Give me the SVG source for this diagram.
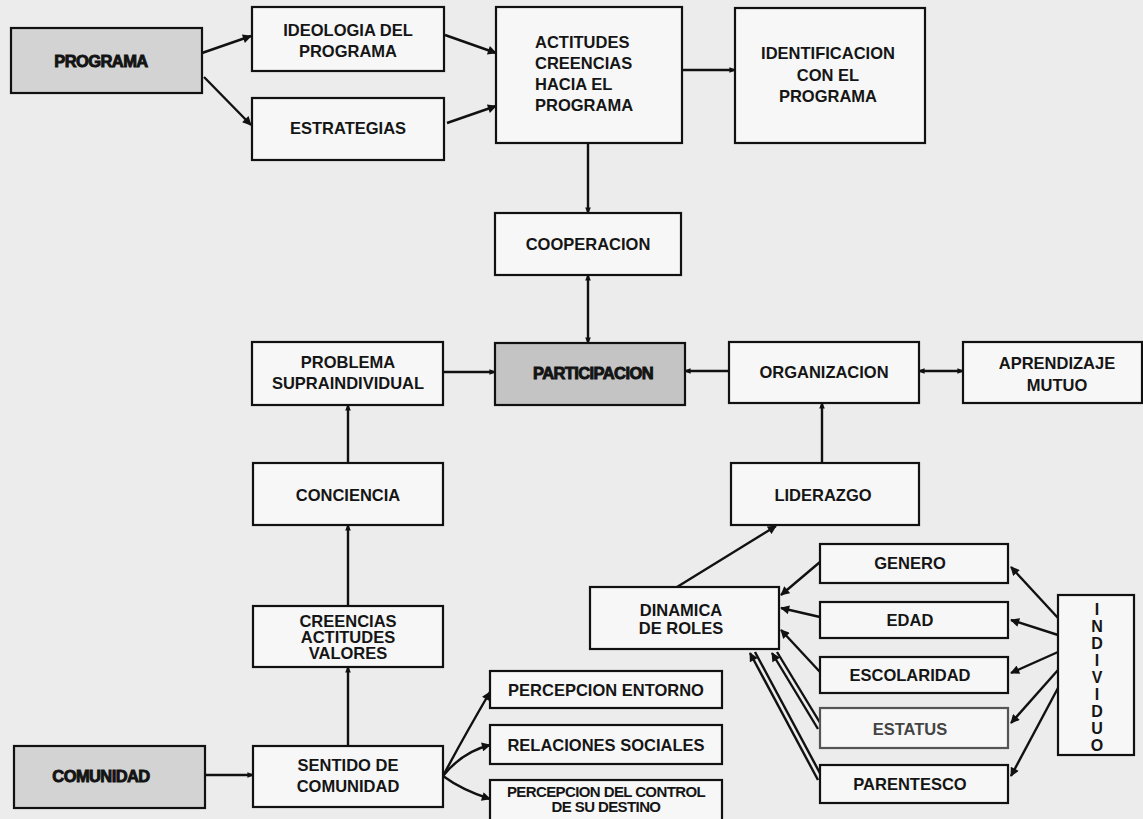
<svg xmlns="http://www.w3.org/2000/svg" width="1143" height="819" viewBox="0 0 1143 819">
<style>
.box{fill:#f7f7f7;stroke:#111;stroke-width:2.2}
.gray{fill:#d3d3d3;stroke:#111;stroke-width:2.2}
.dark{fill:#c4c4c4;stroke:#111;stroke-width:2.2}
text{font-family:"Liberation Sans",Arial,sans-serif;font-weight:bold;font-size:16.5px;fill:#151515;text-anchor:middle}
.heavy{stroke:#111;stroke-width:0.9;letter-spacing:-0.6px}
.small{font-size:15px;letter-spacing:-0.6px}
.ind{font-size:16px}
.ln{stroke:#111;stroke-width:2.4;fill:none}
</style>
<defs>
<marker id="ah" viewBox="0 0 10 10" refX="9" refY="5" markerWidth="10" markerHeight="9" markerUnits="userSpaceOnUse" orient="auto"><path d="M0,0 L10,5 L0,10 z" fill="#111"/></marker>
<marker id="as" viewBox="0 0 10 10" refX="8" refY="5" markerWidth="7" markerHeight="7" markerUnits="userSpaceOnUse" orient="auto-start-reverse"><path d="M0,1 L10,5 L0,9 z" fill="#111"/></marker>
</defs>
<rect width="1143" height="819" fill="#ececec"/>

<g id="connectors">
<path class="ln" stroke-width="3" d="M202,53 L251,36" marker-end="url(#ah)"/>
<path class="ln" stroke-width="3" d="M204,77 L251,125" marker-end="url(#ah)"/>
<path class="ln" stroke-width="3" d="M445,35 L496,53" marker-end="url(#ah)"/>
<path class="ln" stroke-width="3" d="M447,123 L496,106" marker-end="url(#ah)"/>
<path class="ln" d="M682,70 L735,70" marker-end="url(#as)"/>
<path class="ln" d="M588,143 L588,213" marker-end="url(#as)"/>
<path class="ln" d="M588,275 L588,343" marker-start="url(#as)" marker-end="url(#as)"/>
<path class="ln" d="M443,372 L495,372" marker-end="url(#as)"/>
<path class="ln" d="M729,371 L685,371" marker-end="url(#as)"/>
<path class="ln" d="M919,371 L963,371" marker-start="url(#as)" marker-end="url(#as)"/>
<path class="ln" d="M822,463 L822,403" marker-end="url(#as)"/>
<path class="ln" d="M348,463 L348,405" marker-end="url(#as)"/>
<path class="ln" d="M348,606 L348,525" marker-end="url(#as)"/>
<path class="ln" d="M348,746 L348,667" marker-end="url(#as)"/>
<path class="ln" d="M205,775 L253,775" marker-end="url(#as)"/>
<path class="ln" stroke-width="2.8" d="M443,776 Q462,740 490,692" marker-end="url(#ah)"/>
<path class="ln" stroke-width="2.8" d="M443,776 Q462,752 490,745" marker-end="url(#ah)"/>
<path class="ln" stroke-width="2.8" d="M443,776 Q462,790 490,799" marker-end="url(#ah)"/>
<path class="ln" stroke-width="3" d="M677,587 L776,526" marker-end="url(#ah)"/>
<path class="ln" d="M820,562 L781,595" marker-end="url(#ah)"/>
<path class="ln" d="M820,617 L781,608" marker-end="url(#ah)"/>
<path class="ln" d="M820,672 L781,630" marker-end="url(#ah)"/>
<path class="ln" stroke-width="1.6" d="M818,729 L772,653" marker-end="url(#ah)"/>
<path class="ln" stroke-width="1.6" d="M822,726 L777,652"/>
<path class="ln" stroke-width="1.6" d="M818,780 L750,653" marker-end="url(#ah)"/>
<path class="ln" stroke-width="1.6" d="M822,777 L755,652"/>
<path class="ln" d="M1058,618 L1011,567" marker-end="url(#ah)"/>
<path class="ln" d="M1058,635 L1011,620" marker-end="url(#ah)"/>
<path class="ln" d="M1058,652 L1011,673" marker-end="url(#ah)"/>
<path class="ln" d="M1058,670 L1011,723" marker-end="url(#ah)"/>
<path class="ln" d="M1058,688 L1011,776" marker-end="url(#ah)"/>
</g>

<g id="programa"><rect class="gray" x="11" y="28" width="191" height="65"/><text class="heavy" x="101" y="67">PROGRAMA</text></g>
<g id="ideologia"><rect class="box" x="252" y="7" width="192" height="64"/><text x="348" y="36">IDEOLOGIA DEL</text><text x="348" y="57">PROGRAMA</text></g>
<g id="estrategias"><rect class="box" x="252" y="98" width="192" height="62"/><text x="348" y="134">ESTRATEGIAS</text></g>
<g id="actitudes"><rect class="box" x="496" y="7" width="186" height="136"/><text x="535" y="48" style="text-anchor:start">ACTITUDES</text><text x="535" y="69" style="text-anchor:start">CREENCIAS</text><text x="535" y="90" style="text-anchor:start">HACIA EL</text><text x="535" y="111" style="text-anchor:start">PROGRAMA</text></g>
<g id="identificacion"><rect class="box" x="735" y="8" width="190" height="135"/><text x="828" y="59">IDENTIFICACION</text><text x="828" y="81">CON EL</text><text x="828" y="102">PROGRAMA</text></g>
<g id="cooperacion"><rect class="box" x="495" y="213" width="186" height="62"/><text x="588" y="250">COOPERACION</text></g>
<g id="problema"><rect class="box" x="252" y="342" width="191" height="63"/><text x="348" y="368">PROBLEMA</text><text x="348" y="389">SUPRAINDIVIDUAL</text></g>
<g id="participacion"><rect class="dark" x="495" y="343" width="190" height="62"/><text class="heavy" x="593" y="379">PARTICIPACION</text></g>
<g id="organizacion"><rect class="box" x="729" y="342" width="190" height="61"/><text x="824" y="378">ORGANIZACION</text></g>
<g id="aprendizaje"><rect class="box" x="963" y="342" width="179" height="61"/><text x="1057" y="369">APRENDIZAJE</text><text x="1057" y="391">MUTUO</text></g>
<g id="liderazgo"><rect class="box" x="731" y="463" width="188" height="62"/><text x="823" y="501">LIDERAZGO</text></g>
<g id="conciencia"><rect class="box" x="253" y="463" width="190" height="62"/><text x="348" y="501">CONCIENCIA</text></g>
<g id="creencias"><rect class="box" x="253" y="606" width="190" height="61"/><text x="348" y="627">CREENCIAS</text><text x="348" y="643">ACTITUDES</text><text x="348" y="659">VALORES</text></g>
<g id="sentido"><rect class="box" x="253" y="746" width="190" height="61"/><text x="348" y="771">SENTIDO DE</text><text x="348" y="792">COMUNIDAD</text></g>
<g id="comunidad"><rect class="gray" x="14" y="746" width="191" height="62"/><text class="heavy" x="101" y="782">COMUNIDAD</text></g>
<g id="percepcion-entorno"><rect class="box" x="490" y="671" width="232" height="37"/><text x="606" y="696">PERCEPCION ENTORNO</text></g>
<g id="relaciones"><rect class="box" x="490" y="725" width="232" height="39"/><text x="606" y="751">RELACIONES SOCIALES</text></g>
<g id="percepcion-control"><rect class="box" x="490" y="780" width="232" height="42"/><text class="small" x="606" y="797">PERCEPCION DEL CONTROL</text><text class="small" x="606" y="812">DE SU DESTINO</text></g>
<g id="dinamica"><rect class="box" x="590" y="587" width="189" height="62"/><text x="681" y="616">DINAMICA</text><text x="681" y="634">DE ROLES</text></g>
<g id="genero"><rect class="box" x="820" y="544" width="188" height="39"/><text x="910" y="569">GENERO</text></g>
<g id="edad"><rect class="box" x="820" y="602" width="188" height="36"/><text x="910" y="626">EDAD</text></g>
<g id="escolaridad"><rect class="box" x="820" y="657" width="188" height="36"/><text x="910" y="681">ESCOLARIDAD</text></g>
<g id="estatus"><rect class="box" style="stroke:#555" x="820" y="708" width="188" height="40"/><text x="910" y="735" style="fill:#444">ESTATUS</text></g>
<g id="parentesco"><rect class="box" x="820" y="765" width="188" height="38"/><text x="910" y="790">PARENTESCO</text></g>
<g id="individuo"><rect class="box" x="1058" y="595" width="76" height="160"/>
<text class="ind" x="1097" y="615">I</text><text class="ind" x="1097" y="632">N</text><text class="ind" x="1097" y="649">D</text><text class="ind" x="1097" y="666">I</text><text class="ind" x="1097" y="683">V</text><text class="ind" x="1097" y="700">I</text><text class="ind" x="1097" y="717">D</text><text class="ind" x="1097" y="734">U</text><text class="ind" x="1097" y="751">O</text></g>
</svg>
